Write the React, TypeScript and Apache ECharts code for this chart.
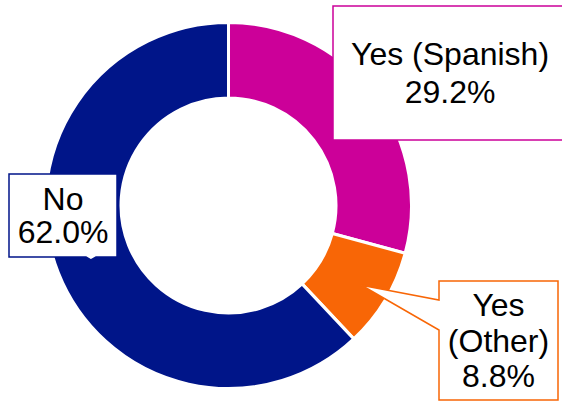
import React, { useEffect, useRef } from 'react';
import * as echarts from 'echarts';

// ---- data ----
const categories = ['Yes (Spanish)', 'Yes (Other)', 'No'];
const shares = [29.2, 8.8, 62.0];
const colors = ['#CC0099', '#F86606', '#001589'];

// ---- layout ----
const CENTER: [number, number] = [228.5, 205.5];
const R_OUT = 183;
const R_IN = 107.5;
const FONT = 'Liberation Sans, Arial, Helvetica, sans-serif';

// callout boxes (layout only): left, top, right, bottom, text centre, line height, wrap, tip radius
const boxes = [
  { l: 333, t: 6, r: 640, b: 140, cx: 450, lh: 38, wrap: false, tipR: 0 },
  { l: 439, t: 281, r: 558, b: 400, cx: 498.5, lh: 35.5, wrap: true, tipR: 155 },
  { l: 9, t: 174, r: 117, b: 257, cx: 63, lh: 33, wrap: false, tipR: 148 },
];

export default function App() {
  const ref = useRef<HTMLDivElement>(null);
  useEffect(() => {
    document.body.style.margin = '0';
    document.body.style.overflow = 'hidden';
    const chart = echarts.init(ref.current!, null, { renderer: 'svg' });
    const total = shares.reduce((a, b) => a + b, 0);
    let acc = 0;
    const mids = shares.map((v) => {
      const m = ((acc + v / 2) / total) * 2 * Math.PI;
      acc += v;
      return m;
    });
    const tip = (i: number, r: number): [number, number] => [
      CENTER[0] + r * Math.sin(mids[i]),
      CENTER[1] - r * Math.cos(mids[i]),
    ];

    // callout shapes (box + pointer toward its slice)
    const outline = (i: number): number[][] => {
      const bx = boxes[i];
      if (i === 1) {
        return [[bx.l, bx.t], [bx.r, bx.t], [bx.r, bx.b], [bx.l, bx.b], [bx.l, 330], tip(i, bx.tipR), [bx.l, 300]];
      }
      if (i === 2) {
        return [[bx.l, bx.t], [bx.r, bx.t], [bx.r, bx.b], [96, bx.b], tip(i, bx.tipR), [86, bx.b], [bx.l, bx.b]];
      }
      return [[bx.r, bx.t], [bx.l, bx.t], [bx.l, bx.b], [bx.r, bx.b]];
    };

    const pieBase = {
      type: 'pie',
      center: CENTER,
      radius: [R_IN, R_OUT],
      startAngle: 90,
      clockwise: true,
      avoidLabelOverlap: false,
      labelLine: { show: false },
      emphasis: { disabled: true },
      silent: true,
    };

    chart.setOption({
      animation: false,
      series: [
        {
          ...pieBase,
          z: 1,
          itemStyle: { borderColor: '#fff', borderWidth: 3 },
          label: { show: false },
          data: categories.map((name, i) => ({
            name,
            value: shares[i],
            itemStyle: { color: colors[i] },
          })),
        },
        {
          ...pieBase,
          z: 3,
          itemStyle: { color: 'rgba(0,0,0,0)', borderWidth: 0 },
          data: categories.map((name, i) => ({
            name,
            value: shares[i],
            label: {
              show: true,
              position: 'outside',
              formatter: () =>
                (boxes[i].wrap ? name.replace(' ', '\n') : name) + '\n' + shares[i].toFixed(1) + '%',
              fontFamily: FONT,
              fontSize: 32,
              color: '#000',
              lineHeight: boxes[i].lh,
              align: 'center',
            },
          })),
          labelLayout: (p: any) => {
            const b = boxes[p.dataIndex];
            return {
              x: b.cx,
              y: (b.t + b.b) / 2,
              align: 'center',
              verticalAlign: 'middle',
            };
          },
        },
      ],
      graphic: [
        // Spanish box: open on the right (runs off the picture)
        {
          type: 'polygon',
          z: 2,
          shape: { points: outline(0) },
          style: { fill: '#fff', stroke: 'none' },
        },
        {
          type: 'polyline',
          z: 2,
          shape: { points: outline(0) },
          style: { fill: 'none', stroke: colors[0], lineWidth: 1.5 },
        },
        ...[1, 2].map((i) => ({
          type: 'polygon',
          z: 2,
          shape: { points: outline(i) },
          style: { fill: '#fff', stroke: colors[i], lineWidth: 1.5 },
        })),
      ],
    });
    return () => chart.dispose();
  }, []);
  return <div ref={ref} style={{ width: 562, height: 403 }} />;
}
